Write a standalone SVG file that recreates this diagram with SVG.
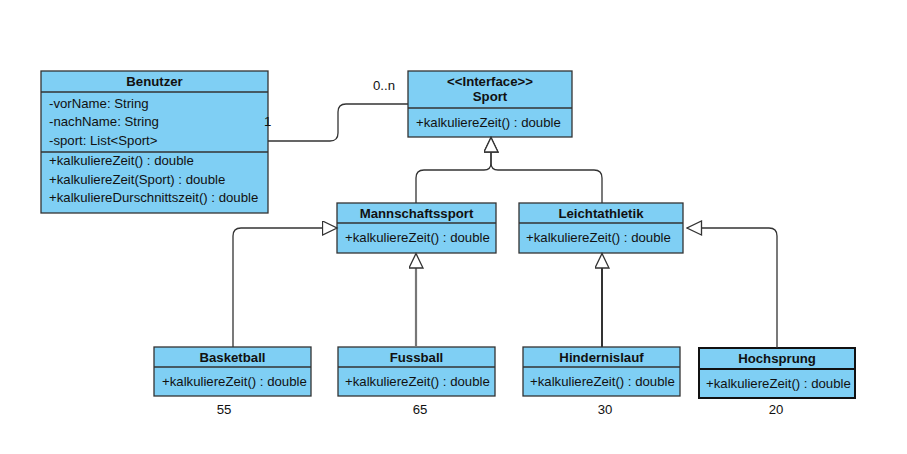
<svg xmlns="http://www.w3.org/2000/svg" width="907" height="454" viewBox="0 0 907 454">
<defs>
<style>
.box{fill:#7FCFF4;stroke:#333;stroke-width:1.3}
.div{stroke:#333;stroke-width:1.3}
.t{font-family:"Liberation Sans",Arial,sans-serif;font-size:13.2px;fill:#111}
.b{font-weight:bold;text-anchor:middle}
.c{text-anchor:middle}
.ln{fill:none;stroke:#333;stroke-width:1.3}
</style>
<marker id="gen" markerUnits="userSpaceOnUse" markerWidth="17" markerHeight="16" refX="15.5" refY="7.5" orient="auto">
<path d="M1,0.5 L15.5,7.5 L1,14.5 Z" fill="#fff" stroke="#333" stroke-width="1.3"/>
</marker>
</defs>
<rect width="907" height="454" fill="#fff"/>
<g id="Benutzer">
<rect class="box" x="41" y="71" width="227" height="142"/>
<line class="div" x1="41" y1="92" x2="268" y2="92"/>
<line class="div" x1="41" y1="152" x2="268" y2="152"/>
<text class="t b" x="154.5" y="86">Benutzer</text>
<text class="t" x="49" y="108">-vorName: String</text>
<text class="t" x="49" y="126">-nachName: String</text>
<text class="t" x="49" y="145">-sport: List&lt;Sport&gt;</text>
<text class="t" x="49" y="165">+kalkuliereZeit() : double</text>
<text class="t" x="49" y="183.5">+kalkuliereZeit(Sport) : double</text>
<text class="t" x="49" y="202">+kalkuliereDurschnittszeit() : double</text>
</g>
<g id="Sport">
<rect class="box" x="408" y="71" width="164" height="66"/>
<line class="div" x1="408" y1="108" x2="572" y2="108"/>
<text class="t b" x="490" y="86">&lt;&lt;Interface&gt;&gt;</text>
<text class="t b" x="490" y="101">Sport</text>
<text class="t" x="416" y="126.5">+kalkuliereZeit() : double</text>
</g>
<g id="Mannschaftssport">
<rect class="box" x="337" y="203" width="159" height="50"/>
<line class="div" x1="337" y1="223" x2="496" y2="223"/>
<text class="t b" x="416.5" y="217.5">Mannschaftssport</text>
<text class="t" x="345" y="242">+kalkuliereZeit() : double</text>
</g>
<g id="Leichtathletik">
<rect class="box" x="519" y="203" width="164" height="50"/>
<line class="div" x1="519" y1="223" x2="683" y2="223"/>
<text class="t b" x="601" y="217.5">Leichtathletik</text>
<text class="t" x="526" y="242">+kalkuliereZeit() : double</text>
</g>
<g id="Basketball">
<rect class="box" x="154" y="347" width="157" height="49"/>
<line class="div" x1="154" y1="367" x2="311" y2="367"/>
<text class="t b" x="232.5" y="361.5">Basketball</text>
<text class="t" x="162" y="386">+kalkuliereZeit() : double</text>
<text class="t c" x="224" y="414">55</text>
</g>
<g id="Fussball">
<rect class="box" x="338" y="347" width="157" height="49"/>
<line class="div" x1="338" y1="367" x2="495" y2="367"/>
<text class="t b" x="416.5" y="361.5">Fussball</text>
<text class="t" x="345" y="386">+kalkuliereZeit() : double</text>
<text class="t c" x="420" y="414">65</text>
</g>
<g id="Hindernislauf">
<rect class="box" x="523" y="347" width="157" height="49"/>
<line class="div" x1="523" y1="367" x2="680" y2="367"/>
<text class="t b" x="601.5" y="361.5">Hindernislauf</text>
<text class="t" x="530" y="386">+kalkuliereZeit() : double</text>
<text class="t c" x="605" y="414">30</text>
</g>
<g id="Hochsprung">
<rect class="box" style="stroke-width:2;stroke:#111" x="699" y="348" width="156" height="50"/>
<line class="div" style="stroke-width:2;stroke:#111" x1="699" y1="369" x2="855" y2="369"/>
<text class="t b" x="777" y="363">Hochsprung</text>
<text class="t" x="706" y="387.5">+kalkuliereZeit() : double</text>
<text class="t c" x="776" y="414">20</text>
</g>
<g id="connectors">
<path class="ln" d="M268,141 H330 Q338,141 338,133 V112 Q338,104 346,104 H408"/>
<path class="ln" d="M416,203 V178 Q416,170 424,170 H484 Q491,170 491,163 V137.5" marker-end="url(#gen)"/>
<path class="ln" d="M602,203 V178 Q602,170 594,170 H498 Q491,170 491,163 V137.5" marker-end="url(#gen)"/>
<path class="ln" d="M233,347 V236 Q233,228 241,228 H337" marker-end="url(#gen)"/>
<path class="ln" d="M777,348 V236 Q777,228 769,228 H687" marker-end="url(#gen)"/>
<path class="ln" style="stroke:#777;stroke-width:2.2" d="M416,347 V253.5" marker-end="url(#gen)"/>
<path class="ln" style="stroke-width:2" d="M602,347 V253.5" marker-end="url(#gen)"/>
<text class="t" x="373" y="90">0..n</text>
<text class="t" x="264" y="126">1</text>
</g>
</svg>
